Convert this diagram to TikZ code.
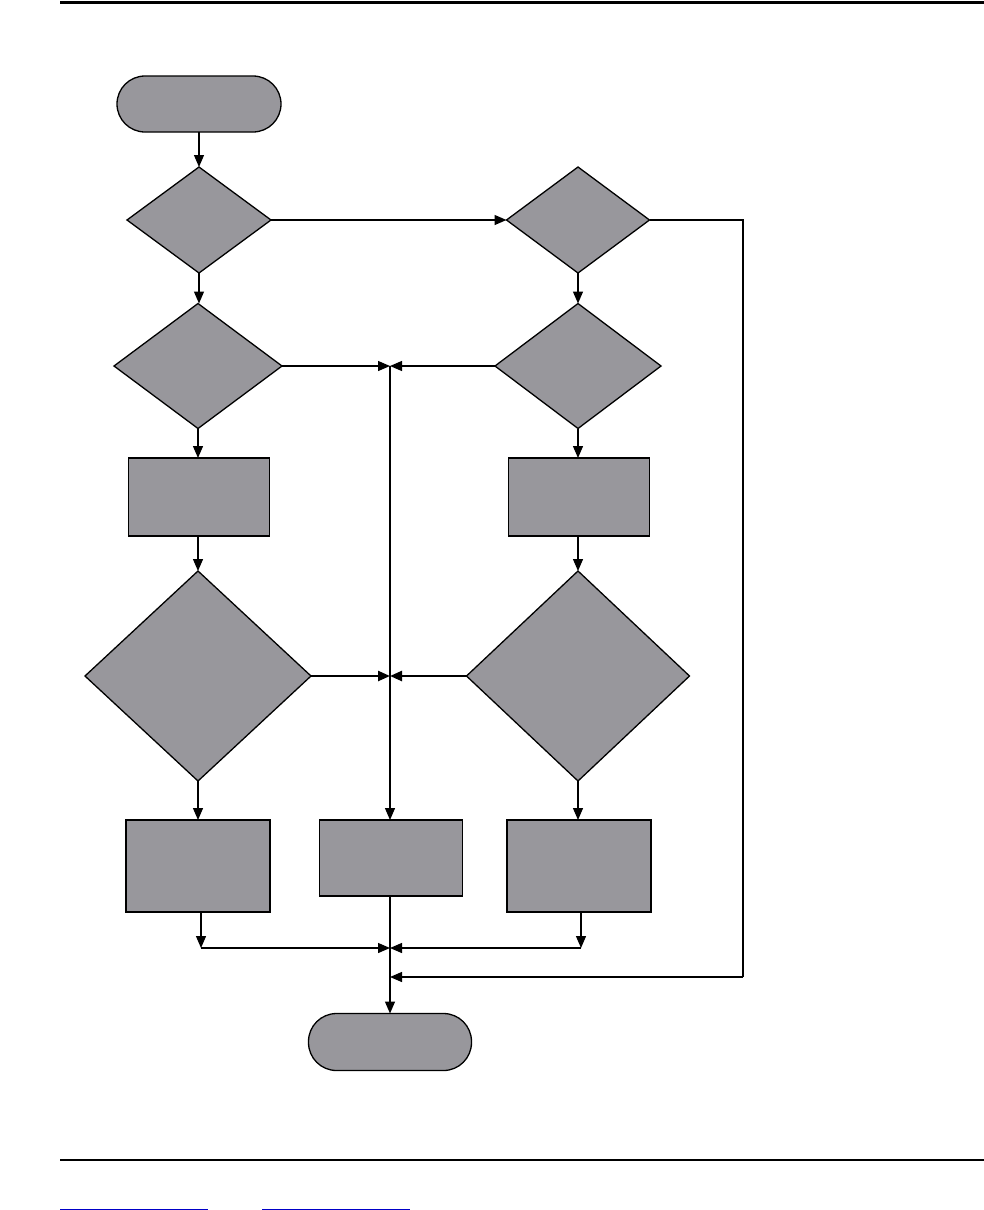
\documentclass[tikz,border=0pt]{standalone}
\usetikzlibrary{shapes.geometric,arrows.meta}
\definecolor{boxgray}{RGB}{152,151,156}
\definecolor{linkblue}{RGB}{0,0,200}
\begin{document}
\begin{tikzpicture}[x=1pt,y=-1pt,
  base/.style={draw=black,fill=boxgray,line width=1.3pt,inner sep=0pt,outer sep=0pt},
  term/.style={base,rectangle,rounded corners=28pt,minimum width=164pt,minimum height=56pt},
  dec/.style={base,diamond},
  proc/.style={base,rectangle},
  conn/.style={line width=1.3pt},
  arr/.style={conn,-{Triangle[length=12pt,width=10pt]}},
  thick arr/.style={line width=2.4pt,-{Triangle[length=12pt,width=10pt]}}]
\useasboundingbox (0,0) rectangle (984,1210);
% rules
\draw[line width=3pt] (60,2) -- (984,2);
\draw[line width=2.5pt] (60,1160) -- (984,1160);
\draw[linkblue,line width=1pt] (60,1209) -- (208,1209);
\draw[linkblue,line width=1pt] (262,1209) -- (410,1209);
% nodes
\node[term] (start) at (199,104) {};
\node[dec,minimum width=144pt,minimum height=106pt] (d1) at (199,220) {};
\node[dec,minimum width=143pt,minimum height=106pt] (d2) at (578,220) {};
\node[dec,minimum width=168pt,minimum height=125pt] (d3) at (198,366) {};
\node[dec,minimum width=166pt,minimum height=125pt] (d4) at (578,366) {};
\node[proc,minimum width=141pt,minimum height=78pt] (r1) at (199,497) {};
\node[proc,minimum width=141pt,minimum height=78pt] (r2) at (579,497) {};
\node[dec,minimum width=226pt,minimum height=210pt] (d5) at (198,676) {};
\node[dec,minimum width=223pt,minimum height=210pt] (d6) at (578,676) {};
\node[proc,minimum width=144pt,minimum height=92pt] (r3) at (198,866) {};
\node[proc,minimum width=143pt,minimum height=76pt] (r4) at (391,858) {};
\node[proc,minimum width=144pt,minimum height=92pt] (r5) at (579,866) {};
\node[term,minimum width=163pt,minimum height=57pt] (end) at (390,1042) {};
% junction coordinates
\coordinate (j1) at (390,366);
\coordinate (j2) at (390,676);
\coordinate (j3) at (390,948);
\coordinate (j4) at (390,977);
\coordinate (cl) at (201,948);
\coordinate (cr) at (581,948);
\coordinate (ea) at (743,220);
\coordinate (eb) at (743,977);
% connectors
\draw[arr] (start.south) -- (d1.north);
\draw[arr] (d1.east) -- (d2.west);
\draw[conn] (d2.east) -- (ea) -- (eb);
\draw[arr] (eb) -- (j4);
\draw[arr] (d1.south) -- (d3.north -| d1.south);
\draw[arr] (d2.south) -- (d4.north);
\draw[arr] (d3.east) -- (j1);
\draw[arr] (d4.west) -- (j1);
\draw[arr] (j1) -- (r4.north -| j1);
\draw[arr] (d3.south) -- (r1.north -| d3.south);
\draw[arr] (d4.south) -- (r2.north -| d4.south);
\draw[arr] (r1.south -| d5.north) -- (d5.north);
\draw[arr] (r2.south -| d6.north) -- (d6.north);
\draw[thick arr] (d5.east) -- (j2);
\draw[thick arr] (d6.west) -- (j2);
\draw[arr] (d5.south) -- (r3.north -| d5.south);
\draw[arr] (d6.south) -- (r5.north -| d6.south);
\draw[arr] (r3.south -| cl) -- (cl);
\draw[arr] (cl) -- (j3);
\draw[arr] (r5.south -| cr) -- (cr);
\draw[arr] (cr) -- (j3);
\draw[arr] (r4.south -| j3) -- (end.north);
\end{tikzpicture}
\end{document}
